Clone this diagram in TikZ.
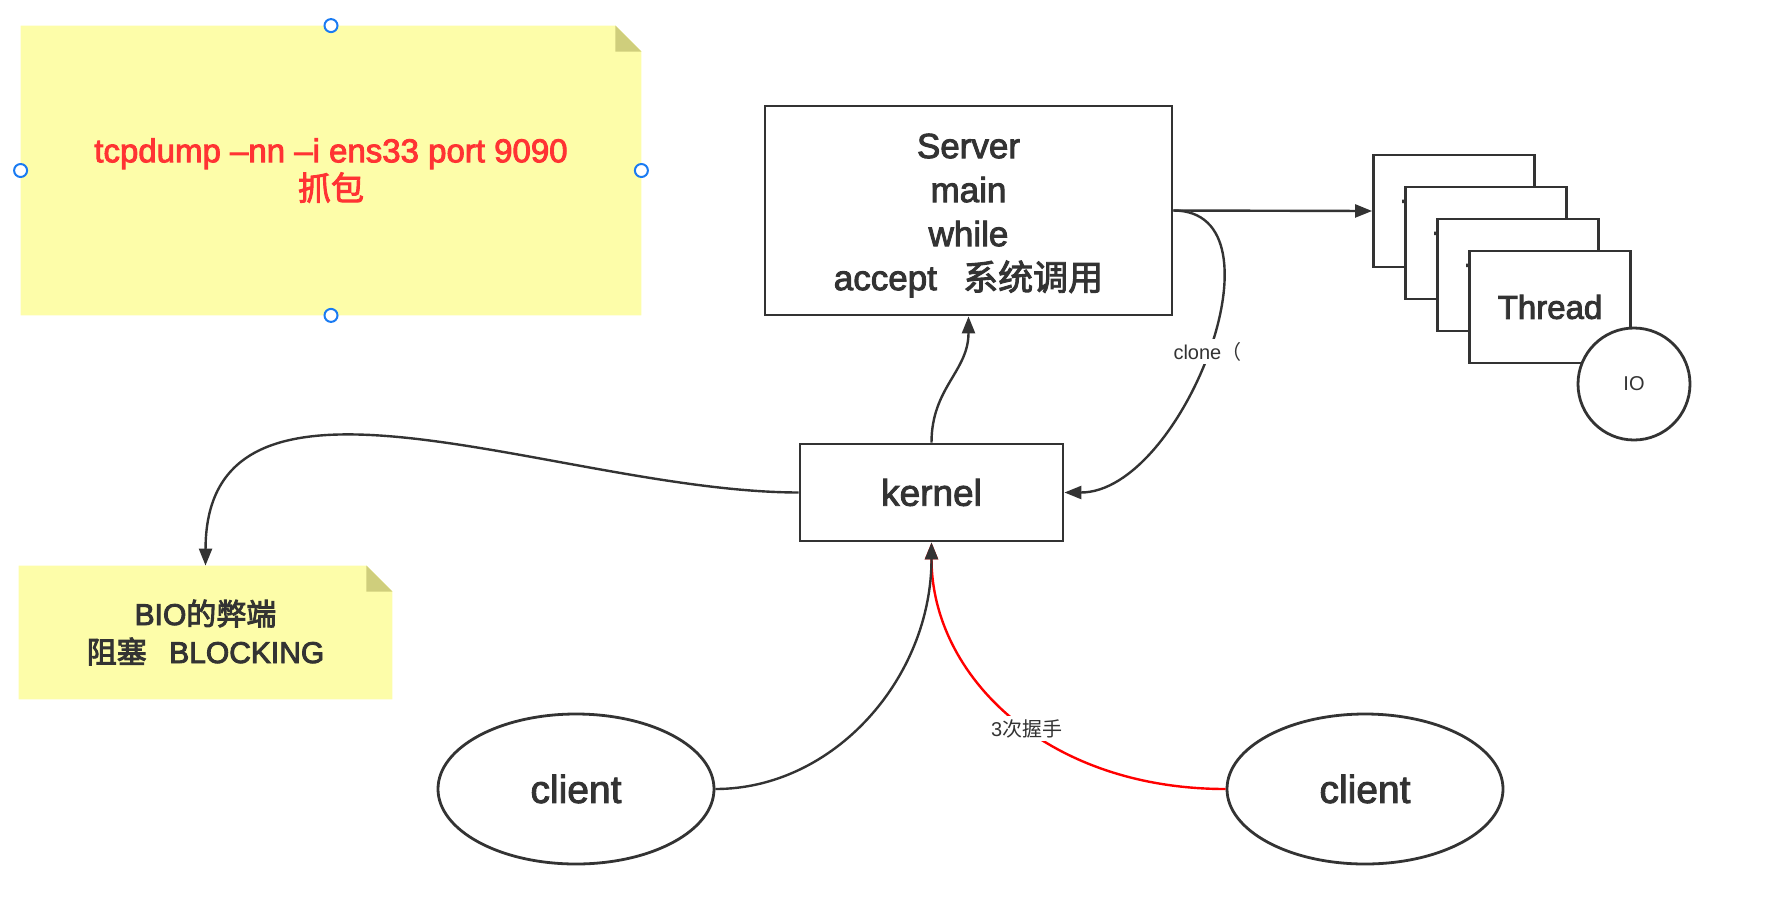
\documentclass[tikz,border=0pt]{standalone}
\usepackage{fontspec}
\setmainfont{Liberation Sans}
\newfontfamily\cjk{Noto Sans CJK SC}
\usetikzlibrary{arrows.meta,shapes.geometric,backgrounds}
\definecolor{ink}{HTML}{333333}
\definecolor{notey}{HTML}{FDFDA9}
\definecolor{foldy}{HTML}{CFCE7C}
\definecolor{tred}{HTML}{FF3333}
\definecolor{hblue}{HTML}{1A7BF2}
\newcommand\heavyon{\special{pdf:literal direct 2 Tr 0.45 w}}
\newcommand\heavyoff{\special{pdf:literal direct 0 Tr}}
\begin{document}
\begin{tikzpicture}[x=0.5pt,y=-0.5pt,
  box/.style={draw=ink, line width=1.4pt, fill=white, text=ink, align=center, inner sep=0pt},
  thr/.style={box, minimum width=80.5pt, minimum height=56pt, font=\fontsize{16.5}{18}\selectfont\heavyon},
  conn/.style={draw=ink, line width=1.2pt, -{Triangle[length=8.5pt,width=6.5pt]}},
  lbl/.style={fill=white, text=ink, font=\fontsize{10}{12}\selectfont\heavyoff, inner sep=1.5pt},
  handle/.style={circle, draw=hblue, fill=white, line width=1pt, minimum size=6.5pt, inner sep=0pt},
  notebox/.style={inner sep=0pt, align=center},
  cli/.style={ellipse, draw=ink, line width=1.4pt, fill=white, minimum width=138pt, minimum height=75pt, text=ink, font=\fontsize{19.5}{22}\selectfont\heavyon}]
\useasboundingbox (0,0) rectangle (1772,906);

% sticky note: tcpdump
\node[notebox, minimum width=310pt, minimum height=144.5pt, text=tred, font=\fontsize{16.5}{19}\selectfont\heavyon] (tcp) at (331,170.5)
  {tcpdump –nn –i ens33 port 9090\\{\cjk 抓包}};
% sticky note: BIO
\node[notebox, minimum width=186.5pt, minimum height=66.5pt, text=ink, font=\fontsize{15}{19}\selectfont\heavyon] (bio) at (205.5,632.5)
  {BIO{\cjk 的弊端}\\{\cjk 阻塞}\hspace{0.75em}BLOCKING};
\begin{scope}[on background layer]
  \foreach \n in {tcp,bio}{
    \fill[notey] (\n.north west) -- ([xshift=-13pt]\n.north east) -- ([yshift=-13pt]\n.north east) -- (\n.south east) -- (\n.south west) -- cycle;
    \fill[foldy] ([xshift=-13pt]\n.north east) -- ([yshift=-13pt]\n.north east) -- ([xshift=-13pt,yshift=-13pt]\n.north east) -- cycle;
  }
\end{scope}
\node[handle] (h1) at (tcp.north) {};
\node[handle] (h2) at (tcp.south) {};
\node[handle] (h3) at (tcp.west) {};
\node[handle] (h4) at (tcp.east) {};

% server
\node[box, minimum width=203.5pt, minimum height=104.5pt] (srv) at (968.5,210.5) {};
\node[text=ink, align=center, inner sep=0pt, font=\fontsize{17.5}{22}\selectfont\heavyon] (srvtxt) at ([yshift=-2.5pt]srv.center)
  {Server\\main\\while\\accept\hspace{0.75em}{\cjk 系统调用}};

% threads
\node[thr] (t1) at (1454,211) {Thread};
\node[thr] (t2) at (1486,243) {Thread};
\node[thr] (t3) at (1518,275) {Thread};
\node[thr] (t4) at (1550,307) {Thread};
\node[circle, draw=ink, line width=1.4pt, fill=white, minimum size=56pt, inner sep=0pt, text=ink, font=\fontsize{10}{12}\selectfont\heavyoff] (io) at (1634,384) {IO};

% kernel
\node[box, minimum width=131.5pt, minimum height=48.5pt, font=\fontsize{18.5}{22}\selectfont\heavyon] (kern) at (931.5,492.5) {kernel};

% clients
\node[cli] (cl) at (576,789) {client};
\node[cli] (cr) at (1365,789) {client};

% connectors
\draw[conn] (srv.east) -- (t1.west);
\draw[conn] (srv.east) .. controls +(118,0) and +(118,0) .. node[lbl, pos=0.5] {clone{\cjk （}} (kern.east);
\draw[conn] (kern.north) .. controls +(0,-55) and +(0,55) .. (srv.south);
\draw[conn] (kern.west) .. controls (560,492) and (206,330) .. (bio.north);
\draw[conn, draw=red, -{Triangle[length=8.5pt,width=6.5pt,fill=red]}] (cr.west) .. controls (1045,789) and (931.5,675) .. node[lbl, pos=0.45] {3{\cjk 次握手}} (kern.south);
\draw[conn] (cl.east) .. controls (834,789) and (931.5,678) .. (kern.south);
\end{tikzpicture}
\end{document}
